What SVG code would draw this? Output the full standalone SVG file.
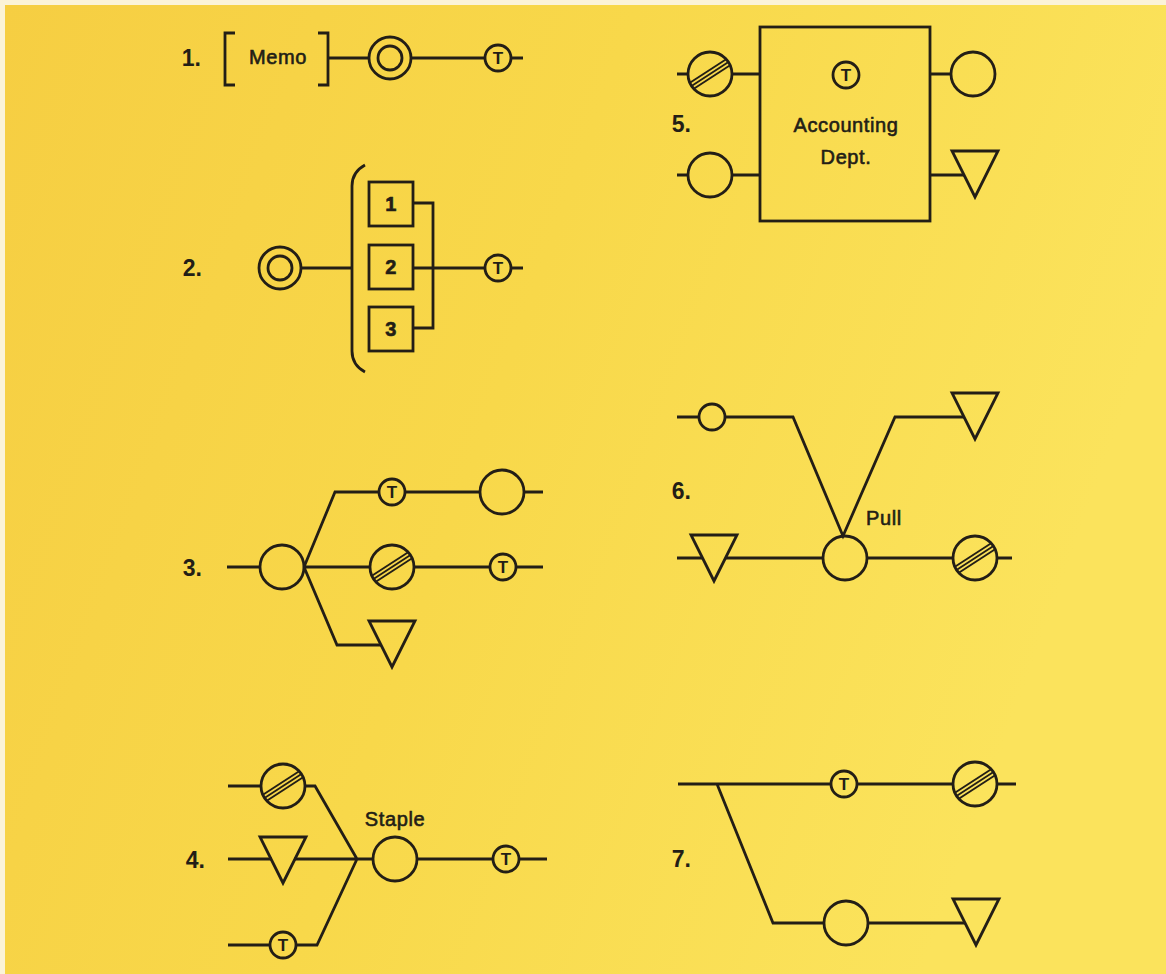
<svg xmlns="http://www.w3.org/2000/svg" width="1166" height="974" viewBox="0 0 1166 974">
<style>
.ln{fill:none;stroke:#231e16;stroke-width:2.8;stroke-linejoin:miter;stroke-linecap:butt}
.sh{fill:none;stroke:#231e16;stroke-width:2.8}
.num{font-family:"Liberation Sans",Arial,sans-serif;font-weight:bold;font-size:23px;fill:#231e16;text-anchor:end}
.lbl{font-family:"Liberation Sans",Arial,sans-serif;font-size:20px;fill:#231e16;stroke:#231e16;stroke-width:0.6;letter-spacing:0.6px}
.mid{text-anchor:middle}
.t{font-family:"Liberation Sans",Arial,sans-serif;font-weight:bold;font-size:17px;fill:#231e16;text-anchor:middle}
</style>
<defs>
<linearGradient id="bg" x1="0" y1="0" x2="1" y2="0.3">
<stop offset="0" stop-color="#F6CE42"/>
<stop offset="0.5" stop-color="#F8D84A"/>
<stop offset="1" stop-color="#FBE35C"/>
</linearGradient>
<g id="tc"><circle class="sh" r="13"/><text class="t" y="6">T</text></g>
<g id="dbl"><circle class="sh" r="21"/><circle class="sh" r="12"/></g>
<g id="big"><circle class="sh" r="22"/></g>
<g id="hatch"><circle class="sh" r="22"/><g transform="rotate(-33)" stroke="#231e16" stroke-width="1.9"><line x1="-21.6" y1="-3.6" x2="21.6" y2="-3.6"/><line x1="-22" y1="0" x2="22" y2="0"/><line x1="-21.6" y1="3.6" x2="21.6" y2="3.6"/></g></g>
<path id="tri" class="sh" d="M-23,-23 H23 L0,23 Z"/>
</defs>
<rect width="1166" height="974" fill="#FBF3D8"/>
<rect x="5" y="5" width="1161" height="969" fill="url(#bg)"/>

<g id="connectors">
<!-- 1 -->
<path class="ln" d="M328,58 H369 M411,58 H485 M511,58 H523"/>
<!-- 2 -->
<path class="ln" d="M301,268 H352 M413,268 H485 M511,268 H523 M413,203 H433 V328 H413"/>
<!-- 3 -->
<path class="ln" d="M227,567 H260 M304,567 L335,492 H379 M405,492 H480 M524,492 H543 M304,567 H370 M414,567 H490 M516,567 H543 M304,567 L337,645 H381"/>
<!-- 4 -->
<path class="ln" d="M228,786 H261 M305,786 H315 L357,859 M228,859 H272 M294,859 H373 M228,945 H270 M296,945 H317 L357,859 M417,859 H493 M519,859 H547"/>
<!-- 5 -->
<path class="ln" d="M677,74 H688 M732,74 H760 M677,175 H688 M732,175 H760 M930,74 H951 M930,175 H964"/>
<!-- 6 -->
<path class="ln" d="M677,417 H699 M725,417 H793 L843,536 L895,417 H964 M677,558 H702 M726,558 H823 M867,558 H953 M997,558 H1012"/>
<!-- 7 -->
<path class="ln" d="M678,784 H831 M857,784 H953 M997,784 H1016 M717,784 L773,923 H824 M868,923 H965"/>
</g>

<g id="d1">
<text class="num" x="201" y="66">1.</text>
<path class="ln" d="M235,33 H225 V85 H235 M318,33 H328 V85 H318"/>
<text class="lbl mid" x="278" y="64">Memo</text>
<use href="#dbl" x="390" y="58"/>
<use href="#tc" x="498" y="58"/>
</g>

<g id="d2">
<text class="num" x="202" y="276">2.</text>
<use href="#dbl" x="280" y="268"/>
<path class="ln" d="M365,165 Q352,172 352,186 V351 Q352,365 365,372"/>
<rect class="sh" x="369" y="182" width="44" height="44"/>
<rect class="sh" x="369" y="245" width="44" height="44"/>
<rect class="sh" x="369" y="307" width="44" height="44"/>
<text class="lbl mid" x="391" y="211" font-weight="bold">1</text>
<text class="lbl mid" x="391" y="274" font-weight="bold">2</text>
<text class="lbl mid" x="391" y="336" font-weight="bold">3</text>
<use href="#tc" x="498" y="268"/>
</g>

<g id="d3">
<text class="num" x="202" y="576">3.</text>
<use href="#big" x="282" y="567"/>
<use href="#tc" x="392" y="492"/>
<use href="#big" x="502" y="492"/>
<use href="#hatch" x="392" y="567"/>
<use href="#tc" x="503" y="567"/>
<use href="#tri" x="392" y="644"/>
</g>

<g id="d4">
<text class="num" x="205" y="868">4.</text>
<use href="#hatch" x="283" y="786"/>
<use href="#tri" x="283" y="860"/>
<use href="#tc" x="283" y="945"/>
<text class="lbl mid" x="395" y="826">Staple</text>
<use href="#big" x="395" y="859"/>
<use href="#tc" x="506" y="859"/>
</g>

<g id="d5">
<text class="num" x="691" y="132">5.</text>
<rect class="sh" x="760" y="27" width="170" height="194"/>
<use href="#tc" x="846" y="75"/>
<text class="lbl mid" x="846" y="132" font-size="22">Accounting</text>
<text class="lbl mid" x="846" y="164" font-size="22">Dept.</text>
<use href="#hatch" x="710" y="74"/>
<use href="#big" x="710" y="175"/>
<use href="#big" x="973" y="74"/>
<use href="#tri" x="975" y="174"/>
</g>

<g id="d6">
<text class="num" x="691" y="499">6.</text>
<circle class="sh" cx="712" cy="417" r="13"/>
<use href="#tri" x="975" y="416"/>
<use href="#tri" x="714" y="558"/>
<use href="#big" x="845" y="558"/>
<use href="#hatch" x="975" y="558"/>
<text class="lbl" x="866" y="525">Pull</text>
</g>

<g id="d7">
<text class="num" x="691" y="867">7.</text>
<use href="#tc" x="844" y="784"/>
<use href="#hatch" x="975" y="784"/>
<use href="#big" x="846" y="923"/>
<use href="#tri" x="976" y="922"/>
</g>
</svg>
